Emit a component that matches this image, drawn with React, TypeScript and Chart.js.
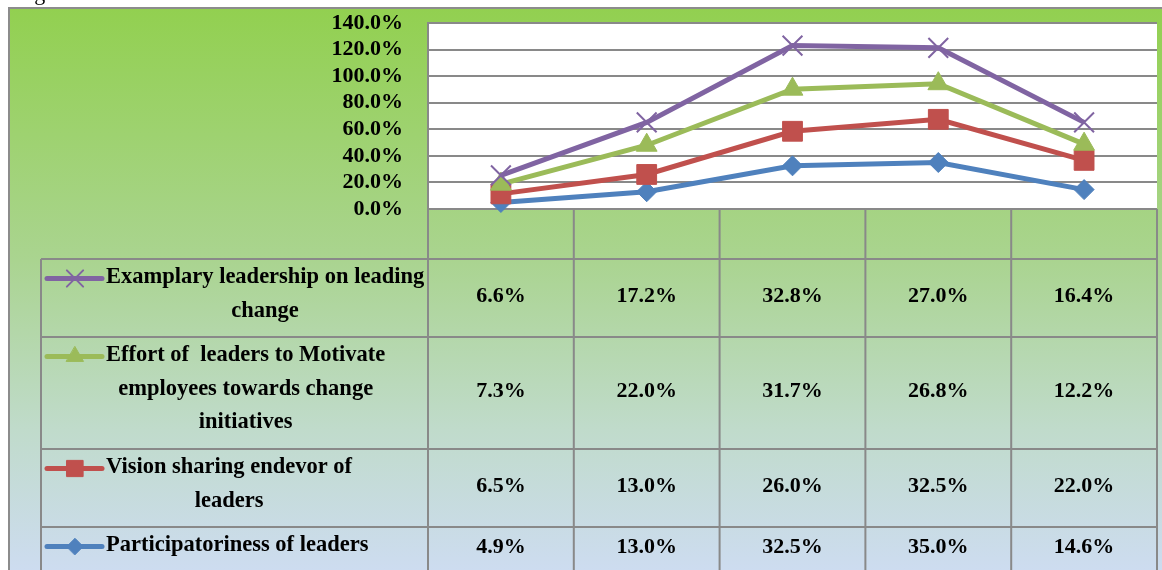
import React, { useEffect, useRef } from 'react';
import { Chart, registerables } from 'chart.js';
import { drawPoint } from 'chart.js/helpers';

Chart.register(...registerables);

// ---- data ----
const categories = ['', '', '', '', ''];
const participatoriness = [4.9, 13.0, 32.5, 35.0, 14.6];
const visionSharing = [6.5, 13.0, 26.0, 32.5, 22.0];
const effortToMotivate = [7.3, 22.0, 31.7, 26.8, 12.2];
const examplaryLeadership = [6.6, 17.2, 32.8, 27.0, 16.4];

const participatorinessLabel = ['Participatoriness of leaders'];
const visionSharingLabel = ['Vision sharing endevor of', 'leaders'];
const effortToMotivateLabel = ['Effort of  leaders to Motivate', 'employees towards change', 'initiatives'];
const examplaryLeadershipLabel = ['Examplary leadership on leading', 'change'];

const yMin = 0;
const yMax = 140;
const yStep = 20;
const captionText = 'Figure';

const FONT = "bold 22px 'Liberation Serif', 'Times New Roman', serif";
const LABEL_FONT = "bold 22.5px 'Liberation Serif', 'Times New Roman', serif";
const GRID = '#898989';

const fmt = (v: number) => v.toFixed(1) + '%';

export default function App() {
  const ref = useRef<HTMLCanvasElement | null>(null);

  useEffect(() => {
    if (!ref.current) return;

    const tablePlugin = {
      id: 'excelFrame',
      beforeDraw(chart: any) {
        const { ctx, chartArea, width, height } = chart;
        ctx.save();
        ctx.fillStyle = '#ffffff';
        ctx.fillRect(0, 0, width, height);
        // caption fragment above the frame
        ctx.fillStyle = '#000';
        ctx.font = "22px 'Liberation Serif', 'Times New Roman', serif";
        ctx.textBaseline = 'alphabetic';
        ctx.textAlign = 'left';
        ctx.fillText(captionText, 16, 0);
        // gradient background
        const g = ctx.createLinearGradient(0, 8, 0, height);
        g.addColorStop(0, '#92D050');
        g.addColorStop(0.45, '#AAD490');
        g.addColorStop(0.75, '#C0DBCB');
        g.addColorStop(1, '#CDDCF0');
        ctx.fillStyle = g;
        ctx.fillRect(9, 8, width, height);
        ctx.strokeStyle = '#8C8C8C';
        ctx.lineWidth = 2;
        ctx.strokeRect(9, 8, width + 20, height + 20);
        // plot area
        ctx.fillStyle = '#ffffff';
        ctx.fillRect(chartArea.left, chartArea.top, chartArea.right - chartArea.left, chartArea.bottom - chartArea.top);
        ctx.restore();
      },
      beforeDatasetsDraw(chart: any) {
        const { ctx, chartArea } = chart;
        const xScale = chart.scales.x;
        const n = categories.length;
        const band = (chartArea.right - chartArea.left) / n;
        const tableLeft = 41;
        const headerTop = chartArea.bottom;
        const headerBottom = headerTop + 50;
        const metas = chart.getSortedVisibleDatasetMetas();
        const rows = chart.data.datasets.map((d: any, i: number) => ({ ds: d, index: i })).reverse();
        ctx.save();
        ctx.strokeStyle = GRID;
        ctx.lineWidth = 2;
        const rowTops: number[] = [];
        const rowHeights: number[] = [];
        let y = headerBottom;
        rows.forEach((r: any) => {
          const lines = (r.ds.label as string[]).length;
          const h = lines * 34 + 10;
          rowTops.push(y);
          rowHeights.push(h);
          y += h;
        });
        const tableBottom = y;
        ctx.beginPath();
        for (let i = 0; i <= n; i++) {
          const x = chartArea.left + i * band;
          ctx.moveTo(x, headerTop);
          ctx.lineTo(x, tableBottom);
        }
        ctx.moveTo(tableLeft, headerBottom);
        ctx.lineTo(tableLeft, tableBottom);
        rowTops.forEach((t) => {
          ctx.moveTo(tableLeft, t);
          ctx.lineTo(chartArea.right, t);
        });
        ctx.moveTo(tableLeft, tableBottom);
        ctx.lineTo(chartArea.right, tableBottom);
        ctx.stroke();

        ctx.fillStyle = '#000';
        rows.forEach((r: any, ri: number) => {
          const top = rowTops[ri];
          const h = rowHeights[ri];
          const ds = r.ds;
          // legend key
          const ky = top + 19.5;
          ctx.save();
          ctx.strokeStyle = ds.borderColor;
          ctx.lineWidth = 5;
          ctx.lineCap = 'round';
          ctx.beginPath();
          ctx.moveTo(47, ky);
          ctx.lineTo(102, ky);
          ctx.stroke();
          ctx.fillStyle = ds.pointBackgroundColor;
          ctx.strokeStyle = ds.pointBorderColor;
          ctx.lineWidth = ds.pointBorderWidth;
          drawPoint(ctx, {
            pointStyle: ds.pointStyle,
            radius: ds.pointRadius * 0.82,
            rotation: 0,
            borderWidth: ds.pointBorderWidth,
          } as any, 75, ky);
          ctx.restore();
          // label text
          ctx.font = LABEL_FONT;
          const lines: string[] = ds.label;
          const maxW = Math.max(...lines.map((l) => ctx.measureText(l).width));
          const cx = 106 + maxW / 2;
          ctx.textAlign = 'center';
          ctx.textBaseline = 'alphabetic';
          lines.forEach((l, li) => {
            ctx.fillText(l, cx, top + 24 + li * 33.5);
          });
          // values
          ctx.font = FONT;
          const values: number[] = ds.data;
          values.forEach((v, ci) => {
            const x = xScale.getPixelForValue(ci);
            ctx.fillText(fmt(v), x, top + h / 2 + 4);
          });
        });
        ctx.restore();

        // draw bottom of the stack first so upper series sit on top
        metas.forEach((m: any) => m.controller.draw());
        return false;
      },
    };

    const mk = (label: string[], data: number[], color: string, style: string, radius: number, bw: number) => ({
      label,
      data,
      borderColor: color,
      backgroundColor: color,
      pointBackgroundColor: color,
      pointBorderColor: color,
      pointStyle: style,
      pointRadius: radius,
      pointBorderWidth: bw,
      borderWidth: 5,
      tension: 0,
      fill: false,
      clip: false,
    });

    const chart = new Chart(ref.current, {
      type: 'line',
      data: {
        labels: categories,
        datasets: [
          mk(participatorinessLabel, participatoriness, '#4F81BD', 'rectRot', 10, 1),
          mk(visionSharingLabel, visionSharing, '#C0504D', 'rect', 14, 1),
          mk(effortToMotivateLabel, effortToMotivate, '#9BBB59', 'triangle', 12, 1),
          mk(examplaryLeadershipLabel, examplaryLeadership, '#8064A2', 'crossRot', 14, 2),
        ] as any,
      },
      options: {
        responsive: false,
        animation: false,
        layout: { autoPadding: false, padding: { left: 0, right: 5, top: 23, bottom: 361 } } as any,
        plugins: {
          legend: { display: false },
          tooltip: { enabled: false },
        },
        events: [],
        scales: {
          x: {
            type: 'category',
            display: false,
            offset: true,
          },
          y: {
            stacked: true,
            min: yMin,
            max: yMax,
            afterFit: (s: any) => {
              s.width = 428;
              s.paddingTop = 0;
              s.paddingBottom = 0;
            },
            ticks: {
              stepSize: yStep,
              autoSkip: false,
              padding: 25,
              color: '#000',
              font: { family: "'Liberation Serif', 'Times New Roman', serif", size: 22, weight: 'bold' },
              callback: (v: any) => fmt(Number(v)),
              labelOffset: 0,
            } as any,
            grid: { color: GRID, lineWidth: 2, drawTicks: false },
            border: { display: true, color: GRID, width: 2 },
          },
        },
      },
      plugins: [tablePlugin],
    });
    return () => chart.destroy();
  }, []);

  return (
    <div style={{ position: 'fixed', left: 0, top: 0, width: 1162, height: 570, overflow: 'hidden' }}>
      <canvas ref={ref} width={1162} height={570} style={{ display: 'block' }} />
    </div>
  );
}
